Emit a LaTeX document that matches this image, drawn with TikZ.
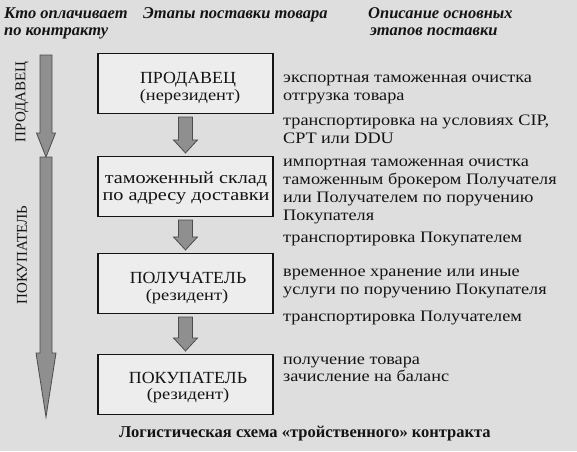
\documentclass[tikz,border=0pt]{standalone}
\usepackage{fontspec}
\setmainfont{Liberation Serif}
\newfontfamily\descfont[FakeStretch=1.14]{Liberation Serif}
\newfontfamily\lowfont[FakeStretch=1.19]{Liberation Serif}
\newfontfamily\capfont[FakeStretch=1.05]{Liberation Serif}
\newfontfamily\paren[FakeStretch=1.15]{Liberation Serif}
\usetikzlibrary{calc}
\definecolor{bgc}{gray}{0.87}
\definecolor{boxc}{gray}{0.93}
\definecolor{ink}{gray}{0.08}
\definecolor{arrf}{gray}{0.56}
\definecolor{arrd}{gray}{0.3}
\tikzset{
  box/.style={draw=ink, line width=1.1pt, fill=boxc, minimum width=175pt, minimum height=60pt, inner sep=0pt},
  btxt/.style={anchor=base, text=ink, inner sep=0pt},
  bcap/.style={btxt, font=\capfont\fontsize{17}{17}\selectfont},
  blow/.style={btxt, font=\lowfont\fontsize{17}{17}\selectfont},
  bpar/.style={btxt, font=\paren\fontsize{16}{16}\selectfont},
  desc/.style={anchor=base west, font=\descfont\fontsize{16}{18}\selectfont, text=ink, inner sep=0pt},
  hdr/.style={anchor=base west, font=\fontsize{16.5}{17}\selectfont\bfseries\itshape, text=ink, inner sep=0pt},
  side/.style={rotate=90, font=\fontsize{15}{17}\selectfont, text=ink, inner sep=0pt},
  barrow/.style={fill=arrf, draw=arrd, line width=0.8pt, line join=miter},
}
\newcommand{\blkarrow}[5]{%
  \draw[barrow] let \p1=(#1), \p2=(#2) in
    (\x1-#3pt,\y1) -- (\x1+#3pt,\y1) -- (\x1+#3pt,\y2+#5pt) -- (\x1+#4pt,\y2+#5pt)
    -- (\x1,\y2) -- (\x1-#4pt,\y2+#5pt) -- (\x1-#3pt,\y2+#5pt) -- cycle;}
\begin{document}
\begin{tikzpicture}[x=1pt, y=-1pt]
\fill[bgc] (0,0) rectangle (577,451);
\useasboundingbox (0,0) rectangle (577,451);
% headers
\node[hdr] (h1) at (4,18) {Кто оплачивает};
\node[hdr] (h1b) at (4,35) {по контракту};
\node[hdr] (h2) at (143,18) {Этапы поставки товара};
\node[hdr] (h3) at (368,18) {Описание основных};
\node[hdr] (h3b) at (370,35) {этапов поставки};
% boxes
\node[box] (b1) at (185.5,83.5) {};
\node[box] (b2) at (185.5,186.5) {};
\node[box] (b3) at (185.5,283.5) {};
\node[box] (b4) at (185.5,384.5) {};
\node[bcap] (b1a) at (188,83) {ПРОДАВЕЦ};
\node[bpar] (b1b) at (190,100) {(нерезидент)};
\node[blow] (b2a) at (186,183) {таможенный склад};
\node[blow] (b2b) at (186,200) {по адресу доставки};
\node[bcap] (b3a) at (188,283) {ПОЛУЧАТЕЛЬ};
\node[bpar] (b3b) at (187,300) {(резидент)};
\node[bcap] (b4a) at (188,383) {ПОКУПАТЕЛЬ};
\node[bpar] (b4b) at (188,399) {(резидент)};
% arrows between boxes
\blkarrow{$(b1.south)+(0,3)$}{$(b2.north)+(0,-3)$}{7}{12}{13}
\blkarrow{$(b2.south)+(0,3)$}{$(b3.north)+(0,-3)$}{7}{12}{13}
\blkarrow{$(b3.south)+(0,3)$}{$(b4.north)+(0,-3)$}{7}{12}{13}
% left side
\coordinate (s1) at (46,55);
\coordinate (t1) at (46,157);
\coordinate (s2) at (46,157);
\coordinate (t2) at (46,417);
\blkarrow{s2}{t2}{6}{10}{64}
\blkarrow{s1}{t1}{6}{9.5}{24}
\node[side] (l1) at (22,102) {ПРОДАВЕЦ};
\node[side] (l2) at (22,255) {ПОКУПАТЕЛЬ};
% descriptions
\node[desc] (d1) at (283,82) {экспортная таможенная очистка};
\node[desc] (d1b) at (283,100) {отгрузка товара};
\node[desc] (d2) at (283,125) {транспортировка на условиях CIP,};
\node[desc] (d2b) at (283,143) {CPT или DDU};
\node[desc] (d3) at (283,166) {импортная таможенная очистка};
\node[desc] (d3b) at (283,184) {таможенным брокером Получателя};
\node[desc] (d3c) at (283,202) {или Получателем по поручению};
\node[desc] (d3d) at (283,220) {Покупателя};
\node[desc] (d4) at (283,242) {транспортировка Покупателем};
\node[desc] (d5) at (283,276) {временное хранение или иные};
\node[desc] (d5b) at (283,294) {услуги по поручению Покупателя};
\node[desc] (d6) at (283,321) {транспортировка Получателем};
\node[desc] (d7) at (283,364) {получение товара};
\node[desc] (d7b) at (283,381) {зачисление на баланс};
% caption
\node[anchor=base, font=\fontsize{16.5}{17}\selectfont\bfseries, text=ink, inner sep=0pt] (cap) at (305,437) {Логистическая схема «тройственного» контракта};
\end{tikzpicture}
\end{document}
